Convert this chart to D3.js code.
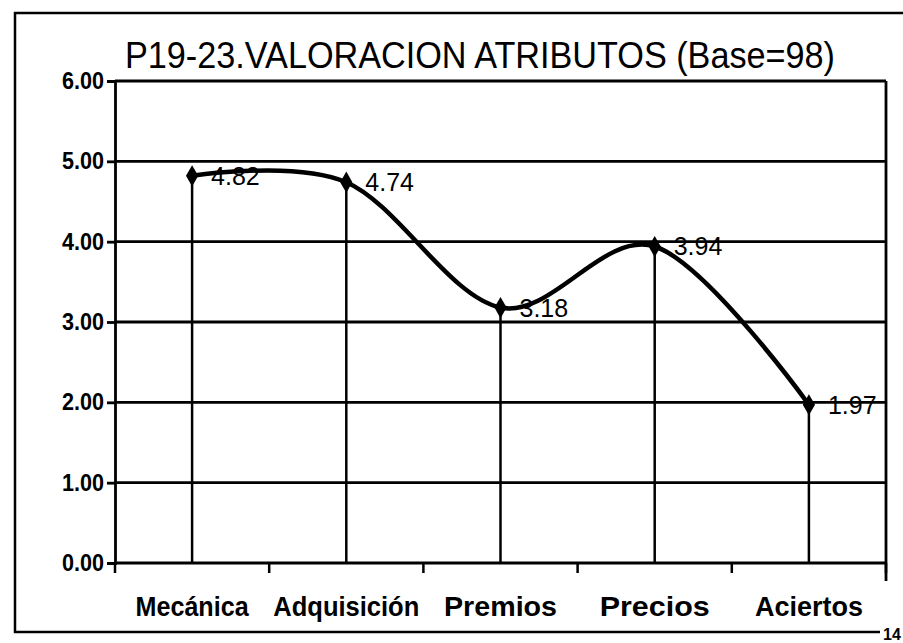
<!DOCTYPE html>
<html>
<head>
<meta charset="utf-8">
<script src="https://cdn.jsdelivr.net/npm/d3@7"></script>
<style>
  html, body { margin: 0; padding: 0; background: #fff; }
  svg { display: block; }
</style>
</head>
<body>
<div id="app"></div>
<script>
const categories = ['Mecánica', 'Adquisición', 'Premios', 'Precios', 'Aciertos'];
const values = [4.82, 4.74, 3.18, 3.94, 1.97];
const yTicks = [0, 1, 2, 3, 4, 5, 6];
const title = 'P19-23.VALORACION ATRIBUTOS (Base=98)';

const w = 903, h = 643;
const plotLeft = 115, plotRight = 886, plotTop = 81, plotBottom = 563;
const NARROW = '"Liberation Sans Narrow", "Arial Narrow", Arial, sans-serif';

const svg = d3.select('#app').append('svg')
  .attr('width', w)
  .attr('height', h)
  .style('font-family', 'Arial, "Liberation Sans", sans-serif');

// outer frame (scanned page border)
svg.append('path')
  .attr('d', `M903,13 L15,13 L15,632 L880,632`)
  .attr('fill', 'none')
  .attr('stroke', '#000')
  .attr('stroke-width', 2.5);

// page number, bottom right
svg.append('text')
  .attr('x', 883).attr('y', 640)
  .attr('font-size', 16).attr('font-weight', 'bold')
  .attr('font-family', NARROW)
  .text('14');

const x = d3.scaleBand().domain(categories).range([plotLeft, plotRight]);
const y = d3.scaleLinear().domain([0, 6]).range([plotBottom, plotTop]);

// title
svg.append('text')
  .attr('x', 125).attr('y', 68)
  .attr('font-size', 37)
  .attr('font-family', NARROW)
  .attr('textLength', 710)
  .attr('lengthAdjust', 'spacingAndGlyphs')
  .text(title);

// gridlines
svg.append('g')
  .selectAll('line')
  .data(yTicks)
  .join('line')
  .attr('x1', plotLeft).attr('x2', plotRight)
  .attr('y1', d => y(d)).attr('y2', d => y(d))
  .attr('stroke', '#000')
  .attr('stroke-width', 2.8);

// y axis
const yAxis = svg.append('g')
  .attr('transform', `translate(${plotLeft},0)`)
  .call(d3.axisLeft(y).tickValues(yTicks).tickFormat(d3.format('.2f')).tickSize(8).tickPadding(3));
yAxis.select('.domain').attr('stroke', '#000').attr('stroke-width', 2.8);
yAxis.selectAll('.tick line').attr('stroke-width', 2.8);
yAxis.selectAll('text')
  .attr('font-size', 23)
  .attr('font-weight', 'bold')
  .attr('font-family', NARROW)
  .attr('textLength', 42)
  .attr('lengthAdjust', 'spacingAndGlyphs')
  .attr('fill', '#000');

// right frame of plot area
svg.append('line')
  .attr('x1', plotRight).attr('x2', plotRight)
  .attr('y1', plotTop).attr('y2', plotBottom + 18)
  .attr('stroke', '#000').attr('stroke-width', 2.8);

// x axis: ticks between categories
const xTickPos = d3.range(categories.length + 1).map(i => plotLeft + i * x.bandwidth());
svg.append('g')
  .selectAll('line')
  .data(xTickPos)
  .join('line')
  .attr('x1', d => d).attr('x2', d => d)
  .attr('y1', plotBottom).attr('y2', plotBottom + 10)
  .attr('stroke', '#000').attr('stroke-width', 2.5);

svg.append('g')
  .selectAll('text')
  .data(categories)
  .join('text')
  .attr('x', d => x(d) + x.bandwidth() / 2)
  .attr('y', 616)
  .attr('text-anchor', 'middle')
  .attr('font-size', 28)
  .attr('font-weight', 'bold')
  .attr('font-family', NARROW)
  .attr('textLength', (d, i) => [113, 146, 113, 110, 108][i])
  .attr('lengthAdjust', 'spacingAndGlyphs')
  .text(d => d);

const cx = (d, i) => x(categories[i]) + x.bandwidth() / 2;

// drop lines
svg.append('g')
  .selectAll('line')
  .data(values)
  .join('line')
  .attr('x1', cx).attr('x2', cx)
  .attr('y1', d => y(d)).attr('y2', plotBottom)
  .attr('stroke', '#000').attr('stroke-width', 2.5);

// smoothed line
const line = d3.line()
  .x(cx)
  .y(d => y(d))
  .curve(d3.curveCardinal.tension(0));

svg.append('path')
  .datum(values)
  .attr('d', line)
  .attr('fill', 'none')
  .attr('stroke', '#000')
  .attr('stroke-width', 4.5);

// markers
svg.append('g')
  .selectAll('path')
  .data(values)
  .join('path')
  .attr('transform', (d, i) => `translate(${cx(d, i)},${y(d)})`)
  .attr('d', d3.symbol(d3.symbolDiamond, 130))
  .attr('fill', '#000');

// value labels
svg.append('g')
  .selectAll('text')
  .data(values)
  .join('text')
  .attr('x', (d, i) => cx(d, i) + 19)
  .attr('y', d => y(d) + 9)
  .attr('font-size', 25)
  .text(d => d.toFixed(2));
</script>
</body>
</html>
